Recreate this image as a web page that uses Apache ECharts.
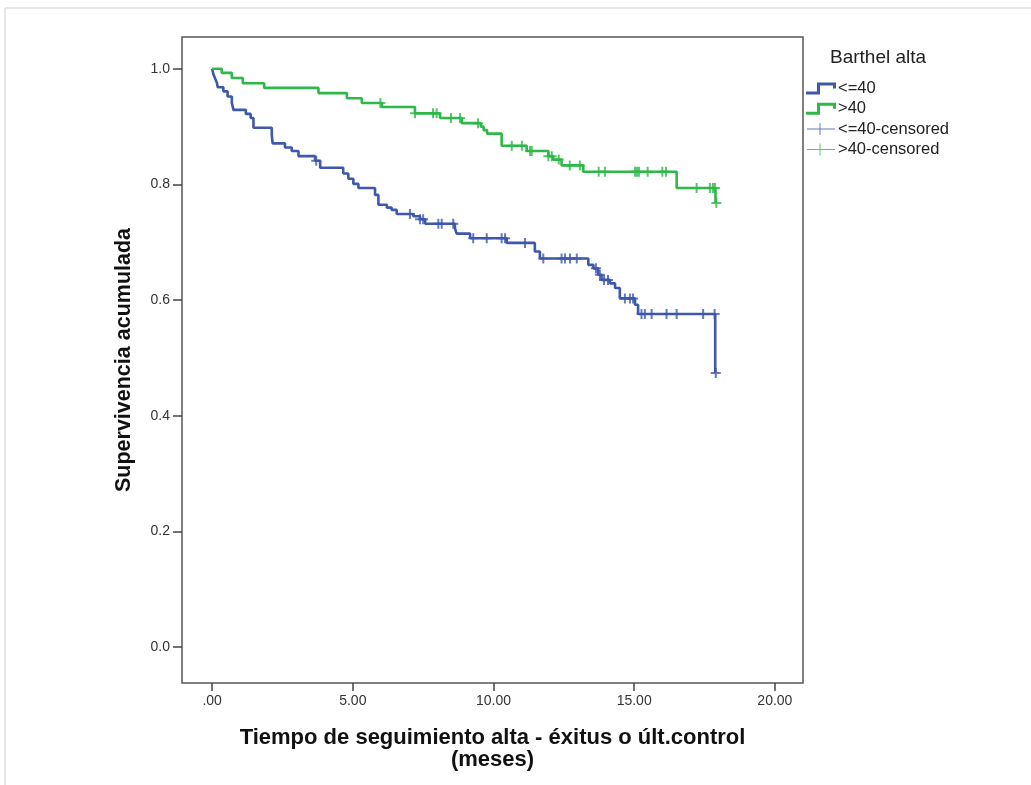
<!DOCTYPE html>
<html>
<head>
   <meta charset="utf-8">
   <title>Supervivencia acumulada</title>
   <script type="text/javascript" src="https://cdn.jsdelivr.net/npm/echarts@6/dist/echarts.min.js"></script>
   <style>
      html, body {margin: 0; padding: 0; background: #fff;}
      #chart {width: 1031px; height: 785px;}
   </style>
</head>
<body>
<div id="chart"></div>
<script>
	// step times (meses) and survival after each step
	var lowTimes = [0, 0.05, 0.11, 0.17, 0.20, 0.40, 0.55, 0.70, 0.76, 1.20, 1.37, 1.47, 2.12, 2.15, 2.59, 2.83, 3.07, 3.66, 3.84,
		4.66, 4.84, 5.02, 5.20, 5.79, 5.91, 6.21, 6.38, 6.56, 7.15, 7.39, 7.57, 8.63, 8.69, 9.17, 10.47, 11.47, 11.65,
		13.37, 13.55, 13.72, 13.84, 14.14, 14.32, 14.49, 15.03, 15.14, 17.88];
	var lowSurv = [1.0, 0.990, 0.983, 0.976, 0.968, 0.961, 0.952, 0.941, 0.929, 0.922, 0.915, 0.898, 0.886, 0.871, 0.864, 0.858, 0.849, 0.841, 0.829,
		0.819, 0.810, 0.801, 0.794, 0.782, 0.765, 0.760, 0.756, 0.749, 0.745, 0.740, 0.732, 0.724, 0.715, 0.707, 0.699, 0.684, 0.672,
		0.661, 0.655, 0.644, 0.635, 0.629, 0.621, 0.603, 0.592, 0.576, 0.474];
	var highTimes = [0, 0.34, 0.70, 1.09, 1.85, 3.78, 4.79, 5.32, 6.03, 7.21, 8.10, 8.87, 9.55, 9.65, 9.77, 10.29, 11.18, 11.95,
		12.12, 12.42, 13.19, 16.51, 17.89];
	var highSurv = [1.0, 0.993, 0.984, 0.975, 0.967, 0.958, 0.949, 0.941, 0.934, 0.923, 0.915, 0.906, 0.900, 0.894, 0.888, 0.867, 0.858, 0.849,
		0.843, 0.833, 0.822, 0.794, 0.768];
	// censored times
	var lowCensored = [3.70, 7.03, 7.39, 7.50, 8.04, 8.16, 8.57, 9.28, 9.76, 10.29, 10.41, 11.12, 11.77, 12.42, 12.54, 12.72, 12.96,
		13.64, 13.78, 13.93, 14.07, 14.67, 14.85, 14.96, 15.26, 15.38, 15.62, 16.15, 16.51, 17.45, 17.86, 17.90];
	var highCensored = [5.98, 7.21, 7.85, 7.98, 8.49, 8.81, 9.45, 10.65, 11.01, 11.30, 11.36, 11.95, 12.07, 12.32, 12.71, 13.07,
		13.74, 13.96, 15.03, 15.10, 15.17, 15.48, 16.00, 16.13, 17.22, 17.69, 17.80, 17.87, 17.92];
	var xTicks = [0, 5, 10, 15, 20];
	var yTicks = [0, 0.2, 0.4, 0.6, 0.8, 1.0];

	var blue = '#3e58ac';
	var green = '#2eb848';
	var plus = 'path://M4,0h2v4h4v2h-4v4h-2v-4h-4v-2h4z';
	var stepIcon = 'path://M0,9L11,9L11,0L30,0L30,6L27,6L27,3L14,3L14,12L0,12Z';
	var crossIcon = 'path://M0,5.5L28,5.5L28,6.5L0,6.5ZM12.5,0L13.5,0L13.5,12L12.5,12Z';

	function pairs(ts, ss) {
		return ts.map(function (t, i) { return [t, ss[i]]; });
	}
	// survival level of the curve at a censored time
	function onCurve(cs, ts, ss) {
		return cs.map(function (c) {
			var s = ss[0];
			for (var i = 0; i < ts.length; i++) { if (ts[i] <= c) s = ss[i]; }
			return [c, s];
		});
	}

	var font = 'Liberation Sans, Arial, sans-serif';
	var chart = echarts.init(document.getElementById('chart'));
	chart.setOption({
		animation: false,
		textStyle: {fontFamily: font},
		title: {text: 'Barthel alta', left: 825, top: 43, textStyle: {fontSize: 19, fontWeight: 'normal', color: '#222', fontFamily: font}},
		legend: {
			orient: 'vertical', left: 801, top: 75, itemGap: 3.3, itemWidth: 30, itemHeight: 12,
			textStyle: {fontSize: 16.5, color: '#222', padding: [0, 0, 0, -3]},
			itemStyle: {borderWidth: 0},
			data: [
				{name: '<=40', icon: stepIcon},
				{name: '>40', icon: stepIcon},
				{name: '<=40-censored', icon: crossIcon},
				{name: '>40-censored', icon: crossIcon}
			]
		},
		graphic: [
			{type: 'line', shape: {x1: 5, y1: 8, x2: 1031, y2: 8}, style: {stroke: '#e6e6e6', lineWidth: 2}},
			{type: 'line', shape: {x1: 5, y1: 8, x2: 5, y2: 785}, style: {stroke: '#e6e6e6', lineWidth: 2}}
		],
		grid: {left: 182, right: 228, top: 37, bottom: 102, show: true, borderColor: '#555', borderWidth: 1.5},
		xAxis: {
			type: 'value', min: -1.07, max: 21.0,
			axisLine: {show: false, onZero: false},
			axisTick: {show: true, length: 8, lineStyle: {color: '#444', width: 1.5}, customValues: xTicks},
			axisLabel: {fontSize: 14, color: '#333', margin: 11, customValues: xTicks,
				formatter: function (v) { return v === 0 ? '.00' : v.toFixed(2); }},
			splitLine: {show: false},
			name: 'Tiempo de seguimiento alta - éxitus o últ.control\n(meses)',
			nameLocation: 'middle', nameGap: 44,
			nameTextStyle: {fontSize: 22, fontWeight: 'bold', color: '#111', lineHeight: 22}
		},
		yAxis: {
			type: 'value', min: -0.062, max: 1.055,
			axisLine: {show: false, onZero: false},
			axisTick: {show: true, length: 9, lineStyle: {color: '#444', width: 1.5}, customValues: yTicks},
			axisLabel: {fontSize: 14, color: '#333', margin: 12, customValues: yTicks,
				formatter: function (v) { return v.toFixed(1); }},
			splitLine: {show: false},
			name: 'Supervivencia acumulada',
			nameLocation: 'middle', nameGap: 47,
			nameTextStyle: {fontSize: 21.5, fontWeight: 'bold', color: '#111'}
		},
		series: [
			{name: '<=40', type: 'line', step: 'end', showSymbol: false, symbol: 'none', color: blue,
				lineStyle: {width: 2.6, color: blue}, data: pairs(lowTimes, lowSurv), z: 3},
			{name: '>40', type: 'line', step: 'end', showSymbol: false, symbol: 'none', color: green,
				lineStyle: {width: 2.6, color: green}, data: pairs(highTimes, highSurv), z: 3},
			{name: '<=40-censored', type: 'scatter', symbol: plus, symbolSize: 10, color: blue,
				itemStyle: {color: blue}, data: onCurve(lowCensored, lowTimes, lowSurv), z: 4},
			{name: '>40-censored', type: 'scatter', symbol: plus, symbolSize: 10, color: green,
				itemStyle: {color: green}, data: onCurve(highCensored, highTimes, highSurv), z: 4}
		]
	});
</script>
</body>
</html>
